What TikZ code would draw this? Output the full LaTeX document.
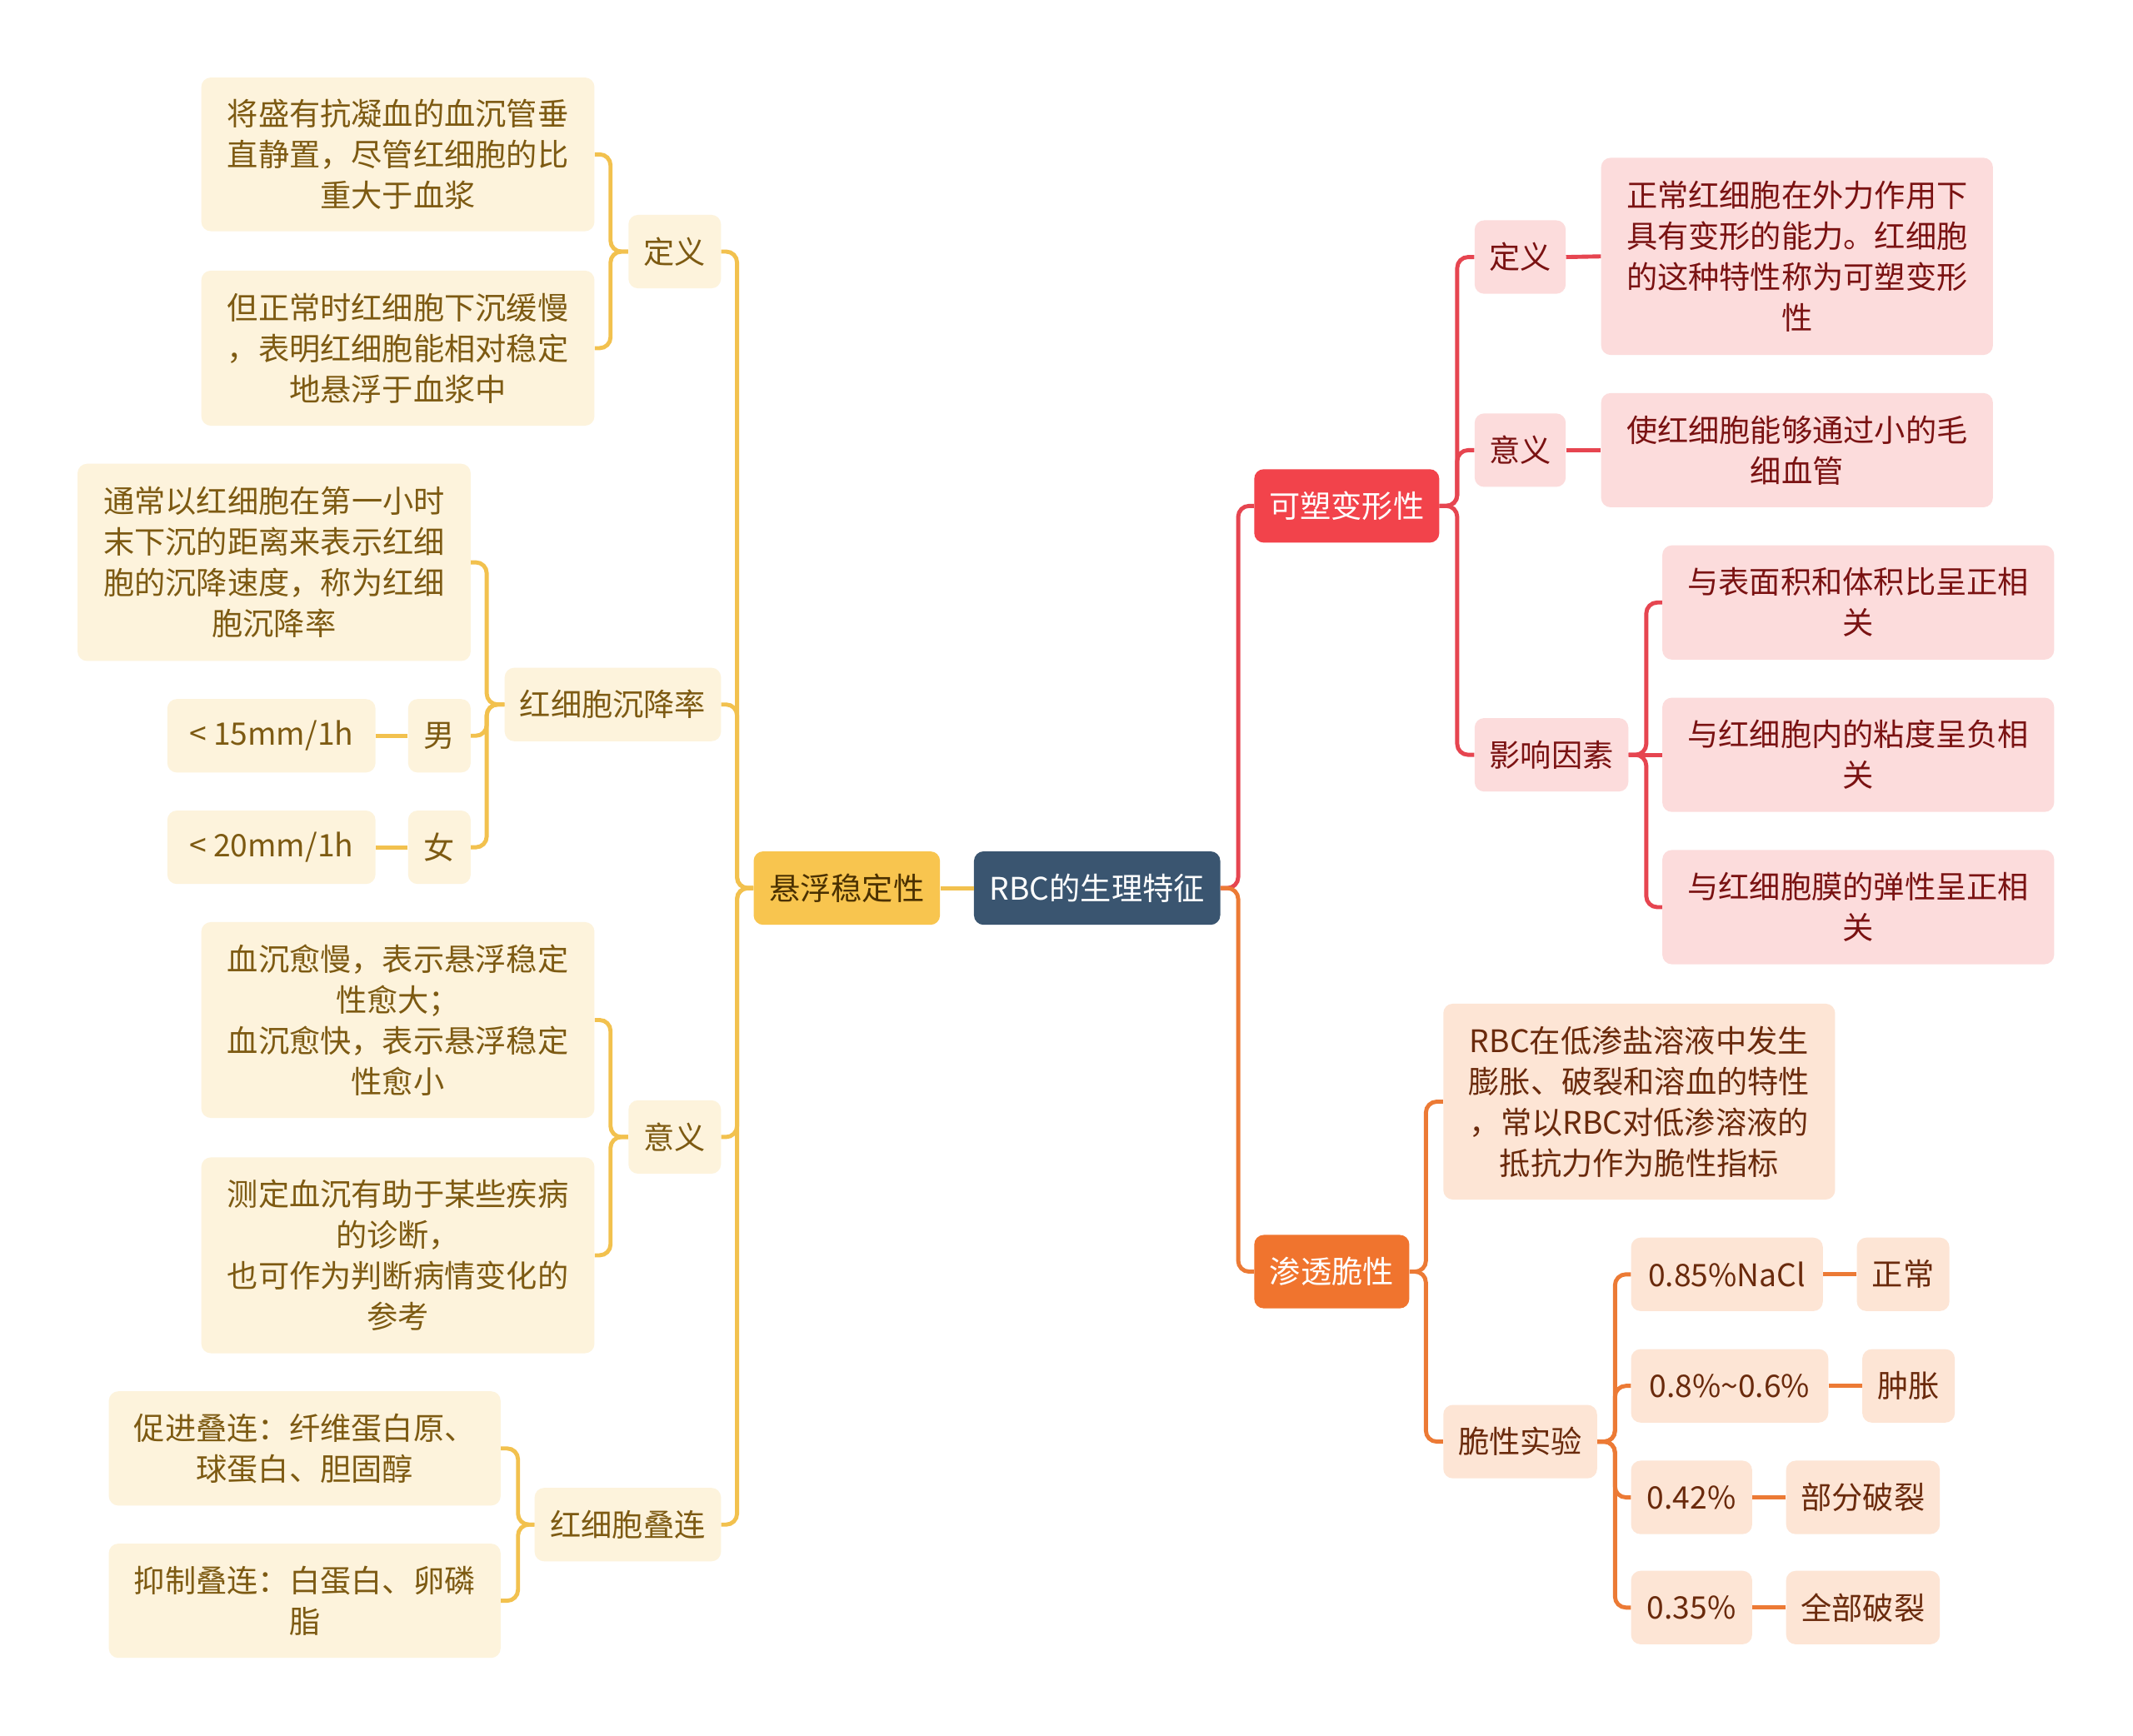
\documentclass[tikz,border=0pt]{standalone}
\usepackage{fontspec}
\setmainfont{Noto Sans CJK SC}
\definecolor{rootc}{HTML}{3A5570}
\definecolor{ylm}{HTML}{F8C54F}
\definecolor{ylmt}{HTML}{4A3000}
\definecolor{ylf}{HTML}{FDF3DC}
\definecolor{ylt}{HTML}{7D5A12}
\definecolor{yll}{HTML}{F2C14E}
\definecolor{rdm}{HTML}{F2434B}
\definecolor{rdf}{HTML}{FCDCDC}
\definecolor{rdt}{HTML}{7A1212}
\definecolor{rdl}{HTML}{E64550}
\definecolor{orm}{HTML}{F0742E}
\definecolor{orf}{HTML}{FDE5D5}
\definecolor{ort}{HTML}{6A2A0C}
\definecolor{orl}{HTML}{EC7A35}
\tikzset{
  basebox/.style={rounded corners=7pt, align=center, inner sep=0pt, font=\fontsize{22.8}{30}\selectfont},
  rootbox/.style={basebox, fill=rootc, text=white},
  ylmain/.style={basebox, fill=ylm, text=ylmt},
  ylbox/.style={basebox, fill=ylf, text=ylt},
  rdmain/.style={basebox, fill=rdm, text=white},
  rdbox/.style={basebox, fill=rdf, text=rdt},
  ormain/.style={basebox, fill=orm, text=white},
  orbox/.style={basebox, fill=orf, text=ort},
  ylline/.style={draw=yll, line width=3pt, rounded corners=8pt},
  rdline/.style={draw=rdl, line width=3pt, rounded corners=8pt},
  orline/.style={draw=orl, line width=3pt, rounded corners=8pt},
}
\newcommand\bx[7]{\node[#2, minimum width={#5-#3}, minimum height={#6-#4}] (#1) at ({(#3+#5)/2},{(#4+#6)/2}) {#7};}
\begin{document}
\begin{tikzpicture}[x=1pt,y=-1pt]
\fill[white] (0,0) rectangle (1568,1276);
\useasboundingbox (0,0) rectangle (1568,1276);
% root and left main
\bx{root}{rootbox}{716}{626}{897}{680}{RBC的生理特征}
\bx{xf}{ylmain}{554}{626}{691}{680}{悬浮稳定性}
\bx{dy1}{ylbox}{462}{158}{530}{212}{定义}
\bx{cj}{ylbox}{371}{491}{530}{545}{红细胞沉降率}
\bx{yy1}{ylbox}{462}{809}{530}{863}{意义}
\bx{dl}{ylbox}{393}{1094}{530}{1148}{红细胞叠连}
\bx{a1}{ylbox}{148}{57}{437}{170}{将盛有抗凝血的血沉管垂\\直静置，尽管红细胞的比\\重大于血浆}
\bx{a2}{ylbox}{148}{199}{437}{313}{但正常时红细胞下沉缓慢\\，表明红细胞能相对稳定\\地悬浮于血浆中}
\bx{b1}{ylbox}{57}{341}{346}{486}{通常以红细胞在第一小时\\末下沉的距离来表示红细\\胞的沉降速度，称为红细\\胞沉降率}
\bx{nan}{ylbox}{300}{514}{346}{568}{男}
\bx{nanv}{ylbox}{123}{514}{276}{568}{< 15mm/1h}
\bx{nv}{ylbox}{300}{596}{346}{650}{女}
\bx{nvv}{ylbox}{123}{596}{276}{650}{< 20mm/1h}
\bx{c1}{ylbox}{148}{678}{437}{822}{血沉愈慢，表示悬浮稳定\\性愈大；\\血沉愈快，表示悬浮稳定\\性愈小}
\bx{c2}{ylbox}{148}{851}{437}{995}{测定血沉有助于某些疾病\\的诊断，\\也可作为判断病情变化的\\参考}
\bx{d1}{ylbox}{80}{1023}{368}{1107}{促进叠连：纤维蛋白原、\\球蛋白、胆固醇}
\bx{d2}{ylbox}{80}{1135}{368}{1219}{抑制叠连：白蛋白、卵磷\\脂}
% right
\bx{ks}{rdmain}{922}{345}{1058}{399}{可塑变形性}
\bx{st}{ormain}{922}{908}{1036}{962}{渗透脆性}
\bx{dy2}{rdbox}{1084}{162}{1151}{216}{定义}
\bx{e1}{rdbox}{1177}{116}{1465}{261}{正常红细胞在外力作用下\\具有变形的能力。红细胞\\的这种特性称为可塑变形\\性}
\bx{yy2}{rdbox}{1084}{304}{1151}{358}{意义}
\bx{e2}{rdbox}{1177}{289}{1465}{373}{使红细胞能够通过小的毛\\细血管}
\bx{yx}{rdbox}{1084}{528}{1197}{582}{影响因素}
\bx{f1}{rdbox}{1222}{401}{1510}{485}{与表面积和体积比呈正相\\关}
\bx{f2}{rdbox}{1222}{513}{1510}{597}{与红细胞内的粘度呈负相\\关}
\bx{f3}{rdbox}{1222}{625}{1510}{709}{与红细胞膜的弹性呈正相\\关}
\bx{g1}{orbox}{1061}{738}{1349}{882}{RBC在低渗盐溶液中发生\\膨胀、破裂和溶血的特性\\，常以RBC对低渗溶液的\\抵抗力作为脆性指标}
\bx{sy}{orbox}{1061}{1033}{1174}{1087}{脆性实验}
\bx{h1}{orbox}{1199}{910}{1340}{964}{0.85\%NaCl}
\bx{h1v}{orbox}{1365}{910}{1433}{964}{正常}
\bx{h2}{orbox}{1199}{992}{1344}{1046}{0.8\%\char"7E 0.6\%}
\bx{h2v}{orbox}{1369}{992}{1437}{1046}{肿胀}
\bx{h3}{orbox}{1199}{1074}{1288}{1128}{0.42\%}
\bx{h3v}{orbox}{1313}{1074}{1426}{1128}{部分破裂}
\bx{h4}{orbox}{1199}{1155}{1288}{1209}{0.35\%}
\bx{h4v}{orbox}{1313}{1155}{1426}{1209}{全部破裂}
% connectors left
\draw[ylline] (root.west) -- (xf.east);
\foreach \c in {dy1,cj,yy1,dl} \draw[ylline] (xf.west) -- ++(-12,0) |- (\c.east);
\foreach \c in {a1,a2} \draw[ylline] (dy1.west) -- ++(-13,0) |- (\c.east);
\foreach \c in {b1,nan,nv} \draw[ylline] (cj.west) -- ++(-13,0) |- (\c.east);
\draw[ylline] (nan.west) -- (nanv.east);
\draw[ylline] (nv.west) -- (nvv.east);
\foreach \c in {c1,c2} \draw[ylline] (yy1.west) -- ++(-13,0) |- (\c.east);
\foreach \c in {d1,d2} \draw[ylline] (dl.west) -- ++(-12,0) |- (\c.east);
% connectors right
\draw[rdline] (root.east) -- ++(13,0) |- (ks.west);
\draw[orline] (root.east) -- ++(13,0) |- (st.west);
\foreach \c in {dy2,yy2,yx} \draw[rdline] (ks.east) -- ++(13,0) |- (\c.west);
\draw[rdline] (dy2.east) -- (e1.west);
\draw[rdline] (yy2.east) -- (e2.west);
\foreach \c in {f1,f3} \draw[rdline] (yx.east) -- ++(13,0) |- (\c.west);
\draw[rdline] (yx.east) -- (f2.west);
\foreach \c in {g1,sy} \draw[orline] (st.east) -- ++(12,0) |- (\c.west);
\foreach \c in {h1,h2,h3,h4} \draw[orline] (sy.east) -- ++(13,0) |- (\c.west);
\draw[orline] (h1.east) -- (h1v.west);
\draw[orline] (h2.east) -- (h2v.west);
\draw[orline] (h3.east) -- (h3v.west);
\draw[orline] (h4.east) -- (h4v.west);
\end{tikzpicture}
\end{document}
